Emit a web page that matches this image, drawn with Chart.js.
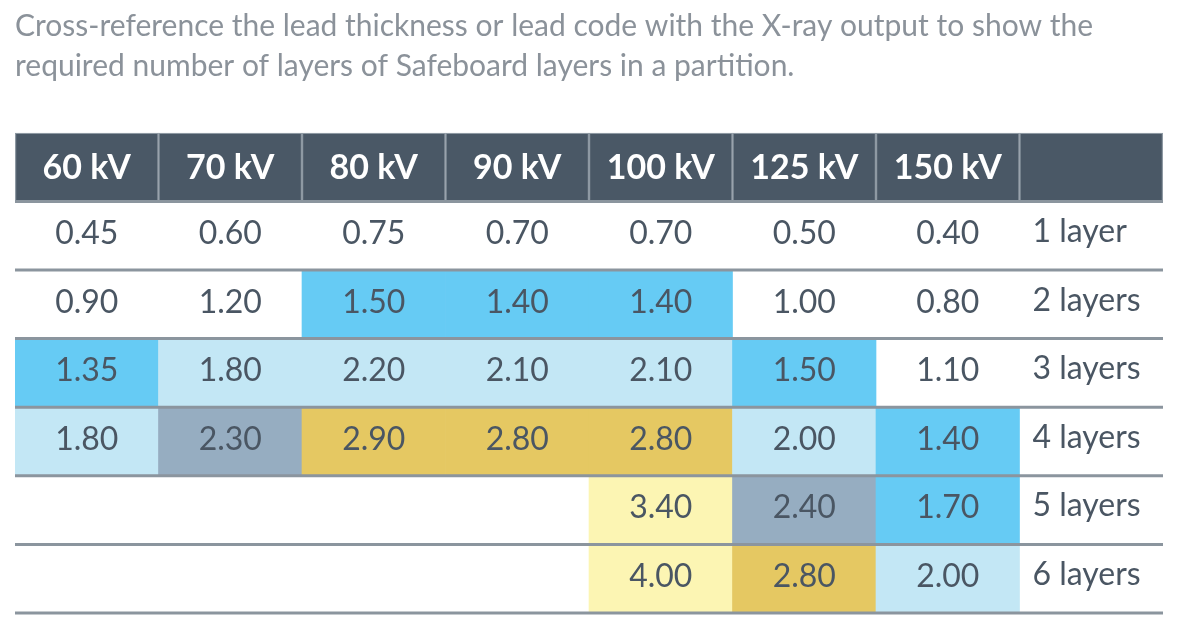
<!DOCTYPE html>
<html>
<head>
<meta charset="utf-8">
<script src="https://cdn.jsdelivr.net/npm/chart.js@4.4.1/dist/chart.umd.min.js"></script>
<style>
    html, body { margin: 0; padding: 0; background: #ffffff; }
    #wrap { width: 1181px; height: 630px; }
</style>
</head>
<body>
<div id="wrap"><canvas id="myChart"></canvas></div>
<script>
const titleLines = [
    'Cross-reference the lead thickness or lead code with the X-ray output to show the',
    'required number of layers of Safeboard layers in a partition.',
];

const kvLabels = ['60 kV', '70 kV', '80 kV', '90 kV', '100 kV', '125 kV', '150 kV'];
const layerLabels = ['1 layer', '2 layers', '3 layers', '4 layers', '5 layers', '6 layers'];

// lead thickness (mm) per number of layers, one value per kV column
const layer1 = [0.45, 0.60, 0.75, 0.70, 0.70, 0.50, 0.40];
const layer2 = [0.90, 1.20, 1.50, 1.40, 1.40, 1.00, 0.80];
const layer3 = [1.35, 1.80, 2.20, 2.10, 2.10, 1.50, 1.10];
const layer4 = [1.80, 2.30, 2.90, 2.80, 2.80, 2.00, 1.40];
const layer5 = [null, null, null, null, 3.40, 2.40, 1.70];
const layer6 = [null, null, null, null, 4.00, 2.80, 2.00];

// lead code thresholds (mm) used for the cell shading
const leadCodes = [1.32, 1.80, 2.24, 2.65, 3.15];

document.addEventListener('DOMContentLoaded', () => {
    const ctx = document.getElementById('myChart').getContext('2d');

    const rows = [layer1, layer2, layer3, layer4, layer5, layer6];
    const codeColors = ['#66cbf4', '#c3e7f5', '#96adc1', '#e5c862', '#fcf5b3'];
    const textColor = '#4a5663';
    const lineColor = '#8b959e';

    function cellColor(v) {
        if (v == null) return 'rgba(0,0,0,0)';
        let idx = -1;
        leadCodes.forEach((t, i) => {
            if (v >= t - 0.001) idx = i;
        });
        return idx < 0 ? 'rgba(0,0,0,0)' : codeColors[idx];
    }

    const columns = [...kvLabels, ''];

    const datasets = [
        {
            label: 'header',
            data: columns.map(() => [-1, 0]),
            backgroundColor: '#4a5866',
            borderColor: '#8e99a3',
            borderWidth: 1.5,
            borderSkipped: false,
        },
    ];
    rows.forEach((vals, r) => {
        datasets.push({
            label: layerLabels[r],
            data: columns.map((c, i) => (vals[i] == null ? null : [r, r + 1])),
            backgroundColor: (c) => cellColor(vals[c.dataIndex]),
            borderWidth: 0,
        });
    });

    const tableText = {
        id: 'tableText',
        afterDatasetsDraw(chart) {
            const c = chart.ctx;
            const x = chart.scales.x;
            const y = chart.scales.y;
            const area = chart.chartArea;

            // row separators
            c.save();
            c.strokeStyle = lineColor;
            c.lineWidth = 3;
            for (let r = 0; r <= rows.length; r++) {
                const py = y.getPixelForValue(r);
                c.beginPath();
                c.moveTo(area.left, py);
                c.lineTo(area.right, py);
                c.stroke();
            }

            const yMid = (r) => (y.getPixelForValue(r) + y.getPixelForValue(r + 1)) / 2;

            // header
            c.fillStyle = '#ffffff';
            c.font = 'bold 34px Lato';
            c.textAlign = 'center';
            c.textBaseline = 'middle';
            kvLabels.forEach((lab, i) => {
                c.fillText(lab, x.getPixelForValue(i), yMid(-1) + 1);
            });

            // values
            c.fillStyle = textColor;
            c.font = '32px Lato';
            rows.forEach((vals, r) => {
                vals.forEach((v, i) => {
                    if (v == null) return;
                    c.fillText(v.toFixed(2), x.getPixelForValue(i), yMid(r) - 2);
                });
            });

            // row labels
            c.textAlign = 'left';
            const labelX = x.getPixelForValue(kvLabels.length) - (x.getPixelForValue(1) - x.getPixelForValue(0)) / 2 + 13;
            layerLabels.forEach((lab, r) => {
                c.fillText(lab, labelX, yMid(r) - 4);
            });
            c.restore();
        },
    };

    const config = {
        type: 'bar',
        data: {
            labels: columns,
            datasets: datasets,
        },
        options: {
            responsive: true,
            maintainAspectRatio: false,
            animation: false,
            grouped: false,
            categoryPercentage: 1,
            barPercentage: 1,
            layout: {
                padding: { left: 15, right: 18, top: 0, bottom: 17 },
            },
            plugins: {
                legend: { display: false },
                tooltip: { enabled: false },
                title: {
                    display: true,
                    text: titleLines,
                    align: 'start',
                    color: '#8b929a',
                    font: { family: 'Lato', size: 30, weight: 'normal', lineHeight: 1.33 },
                    padding: { top: 6, bottom: 47 },
                },
            },
            scales: {
                x: {
                    display: false,
                    grid: { display: false },
                },
                y: {
                    display: false,
                    min: -1,
                    max: 6,
                    reverse: true,
                    grid: { display: false },
                },
            },
        },
        plugins: [tableText],
    };

    new Chart(ctx, config);
});
</script>
</body>
</html>
